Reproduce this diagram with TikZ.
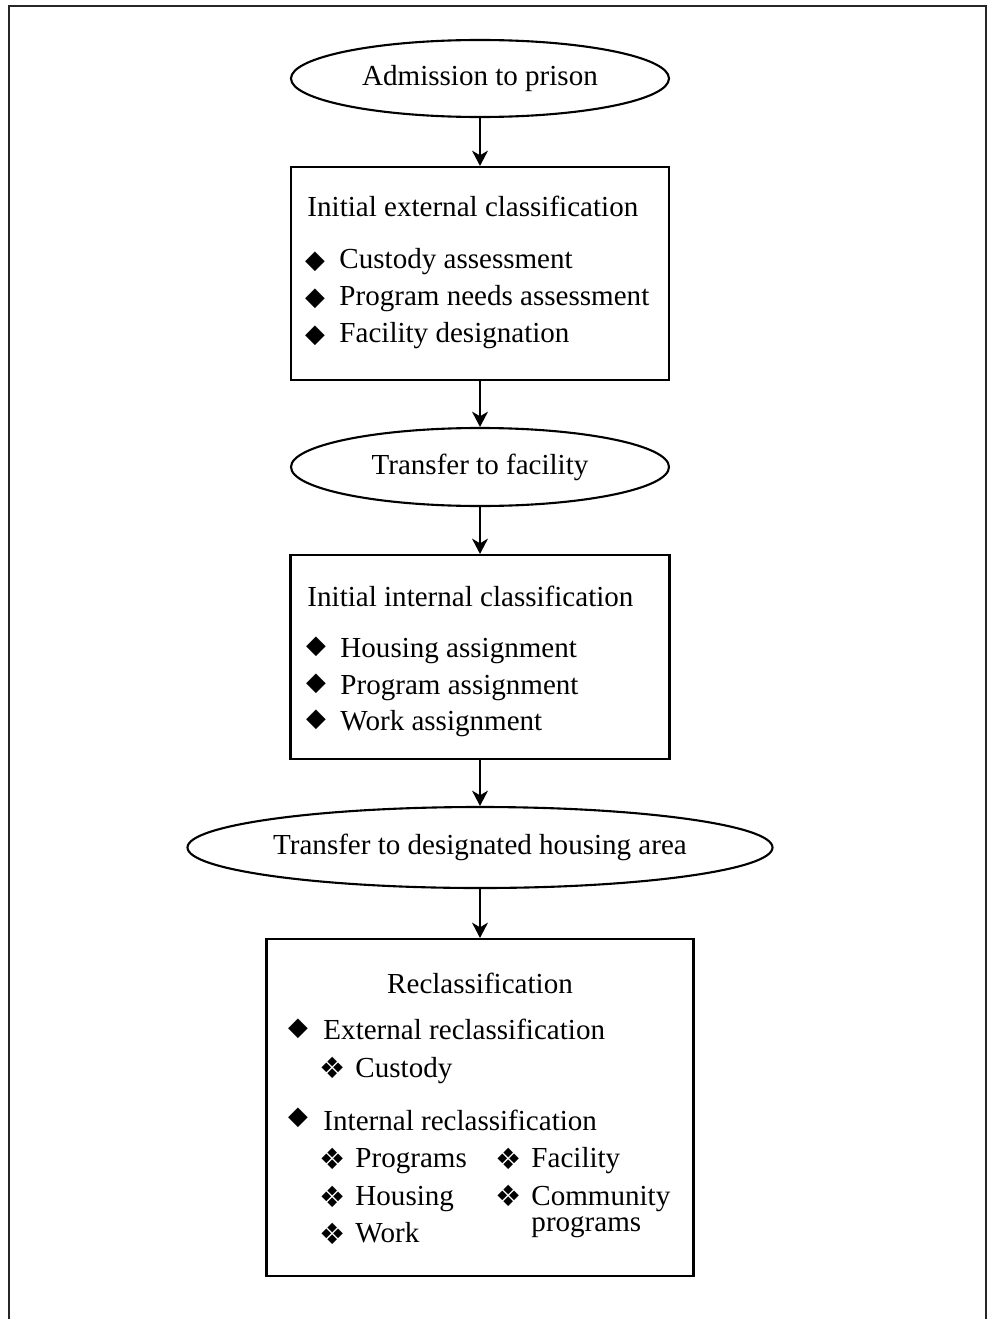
\documentclass[tikz,border=0pt]{standalone}
\usepackage{fontspec}
\setmainfont{Liberation Serif}
\newfontfamily\symfont{DejaVu Sans}
\usepackage{tikz}
\usetikzlibrary{shapes.geometric, positioning, arrows.meta}

\newcommand{\dmd}{{\symfont\fontsize{11}{11}\selectfont ◆}}
\newcommand{\fleur}{{\symfont\fontsize{12.5}{12.5}\selectfont ❖}}

\tikzset{
  oval/.style={ellipse, draw=black, line width=0.9pt, inner sep=0pt},
  stagebox/.style={rectangle, draw=black, line width=0.9pt, inner sep=0pt},
  itemtxt/.style={anchor=base west, inner sep=0pt},
  bul/.style={anchor=center, inner sep=0pt},
  flow/.style={->, line width=0.6pt}
}

\begin{document}
\begin{tikzpicture}[>={Stealth[length=2.3mm, width=2.4mm, inset=0.7mm]}, x=0.015cm, y=-0.015cm, font=\fontsize{12.4}{15}\selectfont]
    \useasboundingbox (0,0) rectangle (989,1319);
    % khung ngoai
    \draw[line width=0.9pt, black!85] (9,1319) -- (9,6) -- (986,6) -- (986,1319);

    % cac buoc chinh
    \node[oval, minimum width=5.67cm, minimum height=1.155cm] (admit) at (480,78.5) {Admission to prison};
    \node[stagebox, minimum width=5.67cm, minimum height=3.195cm] (extcls) at (480,273.5) {};
    \node[oval, minimum width=5.67cm, minimum height=1.17cm] (tofac) at (480,467) {Transfer to facility};
    \node[stagebox, minimum width=5.685cm, minimum height=3.06cm] (intcls) at (480,657) {};
    \node[oval, minimum width=8.22cm, minimum height=1.215cm] (tohouse) at (480,847.5) {Transfer to designated housing area};
    \node[stagebox, minimum width=6.405cm, minimum height=5.055cm] (recls) at (480,1107.5) {};

    % mui ten
    \draw[flow] (admit) -- (extcls);
    \draw[flow] (extcls) -- (tofac);
    \draw[flow] (tofac) -- (intcls);
    \draw[flow] (intcls) -- (tohouse);
    \draw[flow] (tohouse) -- (recls);

    % phan loai ben ngoai
    \node[itemtxt] (extttl) at (307,216) {Initial external classification};
    \foreach \y/\t [count=\i] in {268/Custody assessment, 305/Program needs assessment, 342/Facility designation}
    {
        \node[bul] (extb\i) at (315,\y-6.5) {\dmd};
        \node[itemtxt] (extt\i) at (339,\y) {\t};
    }

    % phan loai ben trong
    \node[itemtxt] (intttl) at (307,606) {Initial internal classification};
    \foreach \y/\t [count=\i] in {657/Housing assignment, 694/Program assignment, 730/Work assignment}
    {
        \node[bul] (intb\i) at (316,\y-10) {\dmd};
        \node[itemtxt] (intt\i) at (340,\y) {\t};
    }

    % phan loai lai
    \node[anchor=base, inner sep=0pt] (rettl) at (480,993) {Reclassification};
    \node[bul] (reb1) at (298,1029) {\dmd};
    \node[itemtxt] (ret1) at (323,1039) {External reclassification};
    \node[bul] (res1) at (333,1068) {\fleur};
    \node[itemtxt] (rec1) at (355,1077) {Custody};
    \node[bul] (reb2) at (298,1118) {\dmd};
    \node[itemtxt] (ret2) at (323,1130) {Internal reclassification};
    \foreach \y/\t [count=\i] in {1167/Programs, 1205/Housing, 1242/Work}
    {
        \node[bul] (resl\i) at (333,\y-8.5) {\fleur};
        \node[itemtxt] (recl\i) at (355,\y) {\t};
    }
    \node[bul] (resr1) at (509,1159) {\fleur};
    \node[itemtxt] (recr1) at (531,1167) {Facility};
    \node[bul] (resr2) at (509,1196) {\fleur};
    \node[anchor=north west, inner sep=0pt, align=left, font=\fontsize{12.4}{11}\selectfont] (recr2) at (531,1186) {Community\\programs};
\end{tikzpicture}
\end{document}
